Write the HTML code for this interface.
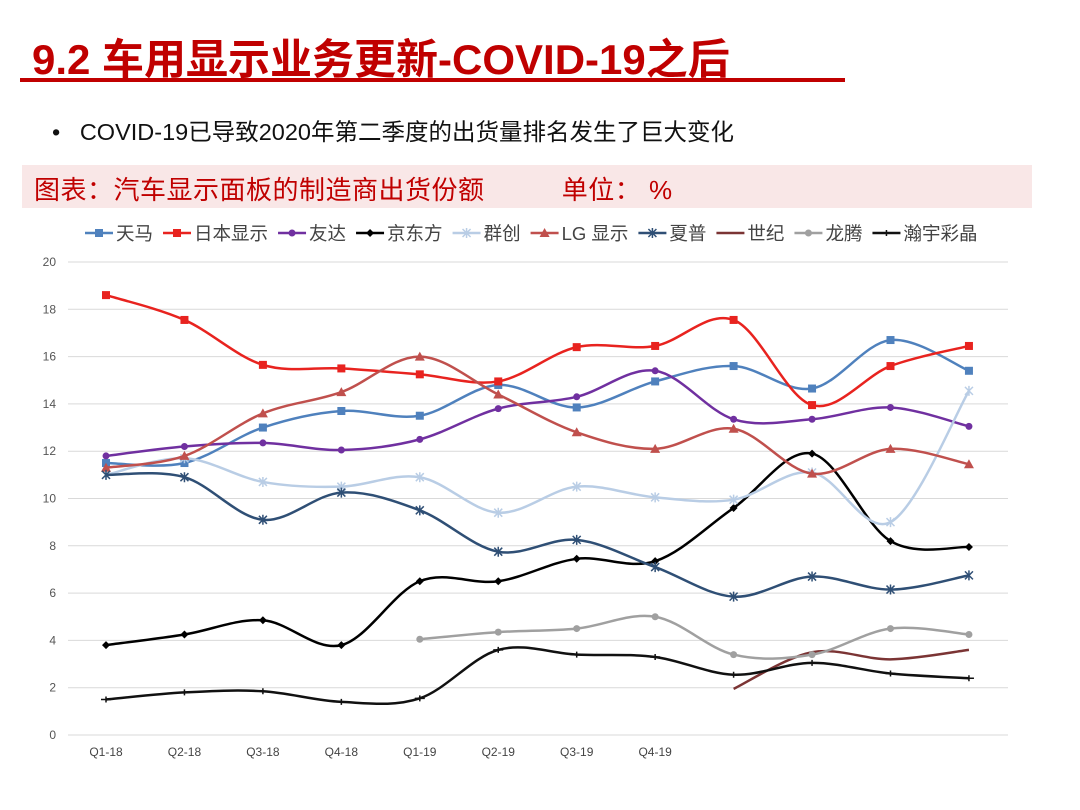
<!DOCTYPE html>
<html><head><meta charset="utf-8"><style>
body{margin:0;width:1080px;height:810px;background:#fff;overflow:hidden;font-family:"Liberation Sans","Noto Sans CJK SC",sans-serif;position:relative}
.t{position:absolute;white-space:nowrap}
</style></head><body>
<div class="t" style="left:32px;top:26px;font-size:42px;font-weight:bold;color:#c00000;letter-spacing:0px">9.2 车用显示业务更新-COVID-19之后</div>
<div style="position:absolute;left:20px;top:78px;width:825px;height:4px;background:#c00000"></div>
<div class="t" style="left:52px;top:113px;font-size:23.5px;color:#111">•&nbsp;&nbsp;&nbsp;COVID-19已导致2020年第二季度的出货量排名发生了巨大变化</div>
<div style="position:absolute;left:22px;top:165px;width:1010px;height:43px;background:#f9e7e7"></div>
<div class="t" style="left:34px;top:170px;font-size:26px;color:#c00000;letter-spacing:0.5px">图表：汽车显示面板的制造商出货份额&nbsp;&nbsp;&nbsp;&nbsp;&nbsp;&nbsp;&nbsp;&nbsp;&nbsp;&nbsp;单位： %</div>
<svg id="c" width="1080" height="810" style="position:absolute;left:0;top:0"></svg>
<script>
const categories=["Q1-18","Q2-18","Q3-18","Q4-18","Q1-19","Q2-19","Q3-19","Q4-19","","","",""];
const yTicks=[0,2,4,6,8,10,12,14,16,18,20];
const names=["天马","日本显示","友达","京东方","群创","LG 显示","夏普","世纪","龙腾","瀚宇彩晶"];
const colors=["#4f81bd","#e8231f","#7030a0","#000000","#b9cde5","#c0504d","#2f4f75","#7b3434","#a0a0a0","#111111"];
const markers=["sq","sq","ci","di","st","tr","st","none","ci","pl"];
const sTianma=[11.5,11.5,13.0,13.7,13.5,14.8,13.85,14.95,15.6,14.65,16.7,15.4];
const sJDI=[18.6,17.55,15.65,15.5,15.25,14.95,16.4,16.45,17.55,13.95,15.6,16.45];
const sAUO=[11.8,12.2,12.35,12.05,12.5,13.8,14.3,15.4,13.35,13.35,13.85,13.05];
const sBOE=[3.8,4.25,4.85,3.8,6.5,6.5,7.45,7.35,9.6,11.9,8.2,7.95];
const sInnolux=[11.0,11.7,10.7,10.5,10.9,9.4,10.5,10.05,9.95,11.1,9.0,14.55];
const sLG=[11.3,11.8,13.6,14.5,16.0,14.4,12.8,12.1,12.95,11.05,12.1,11.45];
const sSharp=[11.0,10.9,9.1,10.25,9.5,7.75,8.25,7.1,5.85,6.7,6.15,6.75];
const sCentury=[null,null,null,null,null,null,null,null,1.95,3.5,3.2,3.6];
const sCPT=[null,null,null,null,4.05,4.35,4.5,5.0,3.4,3.4,4.5,4.25];
const sHannStar=[1.5,1.8,1.85,1.4,1.55,3.6,3.4,3.3,2.55,3.05,2.6,2.4];
const series=[sTianma,sJDI,sAUO,sBOE,sInnolux,sLG,sSharp,sCentury,sCPT,sHannStar];
const NS="http://www.w3.org/2000/svg",svg=document.getElementById('c');
const X=i=>106+i*78.45, Y=v=>735-v*23.65;
function mk(t,a,p){const e=document.createElementNS(NS,t);for(const k in a)e.setAttribute(k,a[k]);(p||svg).appendChild(e);return e;}
yTicks.forEach(v=>{const l=mk('line',{x1:68,x2:1008,y1:Y(v),y2:Y(v),stroke:'#d9d9d9','stroke-width':1});


const t=mk('text',{x:56,y:Y(v)+4,'text-anchor':'end','font-size':12,fill:'#555'});t.textContent=v;

});
categories.forEach((c,i)=>{if(!c)return;const t=mk('text',{x:X(i),y:756,'text-anchor':'middle','font-size':12,fill:'#444'});t.textContent=c;

});
function marker(g,type,x,y,col){
 if(type=='sq')mk('rect',{x:x-4,y:y-4,width:8,height:8,fill:col},g);
 else if(type=='ci')mk('circle',{cx:x,cy:y,r:3.5,fill:col},g);
 else if(type=='di')mk('path',{d:`M${x} ${y-4}L${x+4} ${y}L${x} ${y+4}L${x-4} ${y}Z`,fill:col},g);
 else if(type=='tr')mk('path',{d:`M${x} ${y-5}L${x+5} ${y+4}L${x-5} ${y+4}Z`,fill:col},g);
 else if(type=='st')mk('path',{d:`M${x-4} ${y-4}L${x+4} ${y+4}M${x+4} ${y-4}L${x-4} ${y+4}M${x} ${y-5}V${y+5}`,stroke:col,'stroke-width':1.5},g);
 else if(type=='pl')mk('path',{d:`M${x-5} ${y}H${x+5}M${x} ${y-3}V${y+3}`,stroke:col,'stroke-width':1.5},g);
}
series.forEach((s,k)=>{
 const g=mk('g',{});
 
 
 const pts=[];s.forEach((v,i)=>{if(v!=null)pts.push([X(i),Y(v)]);});
 let d=`M${pts[0][0]} ${pts[0][1]}`;
 for(let i=0;i<pts.length-1;i++){const p0=pts[i-1]||pts[i],p1=pts[i],p2=pts[i+1],p3=pts[i+2]||p2;
  const c1=[p1[0]+(p2[0]-p0[0])/6,p1[1]+(p2[1]-p0[1])/6],c2=[p2[0]-(p3[0]-p1[0])/6,p2[1]-(p3[1]-p1[1])/6];
  d+=`C${c1[0]} ${c1[1]} ${c2[0]} ${c2[1]} ${p2[0]} ${p2[1]}`;}
 mk('path',{d,fill:'none',stroke:colors[k],'stroke-width':2.5},g);
 pts.forEach(p=>marker(g,markers[k],p[0],p[1],colors[k]));
});
let lx=85;
names.forEach((n,k)=>{const g=mk('g',{});
 
 
 mk('line',{x1:lx,x2:lx+28,y1:233,y2:233,stroke:colors[k],'stroke-width':2.5},g);
 marker(g,markers[k],lx+14,233,colors[k]);
 const t=mk('text',{x:lx+31,y:240,'font-size':18.5,fill:'#444'},g);t.textContent=n;
 lx+=31+t.getComputedTextLength()+10;});
</script>
</body></html>
